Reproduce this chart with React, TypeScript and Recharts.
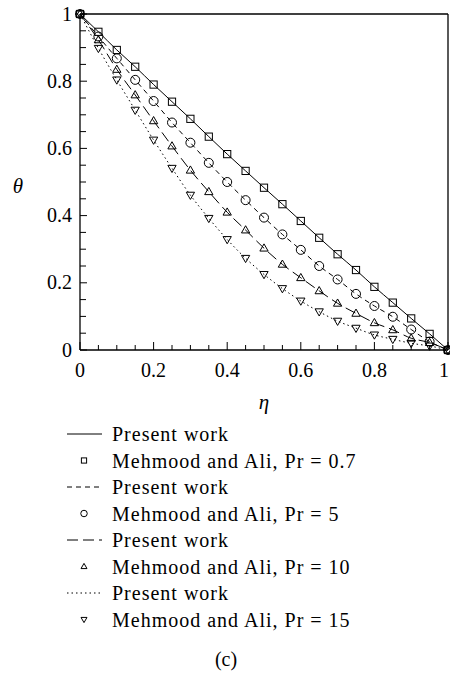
import { ComposedChart, Line, Scatter, XAxis, YAxis, ReferenceLine, Legend } from 'recharts'

// dimensionless distance and temperature profiles
const etaValues = [0, 0.05, 0.1, 0.15, 0.2, 0.25, 0.3, 0.35, 0.4, 0.45, 0.5, 0.55, 0.6, 0.65, 0.7, 0.75, 0.8, 0.85, 0.9, 0.95, 1]
const thetaPr07 = [1, 0.947, 0.893, 0.843, 0.79, 0.739, 0.688, 0.635, 0.583, 0.533, 0.483, 0.434, 0.384, 0.334, 0.285, 0.238, 0.188, 0.141, 0.094, 0.048, 0]
const thetaPr5 = [1, 0.933, 0.868, 0.804, 0.741, 0.677, 0.617, 0.557, 0.5, 0.446, 0.394, 0.344, 0.298, 0.25, 0.21, 0.167, 0.131, 0.099, 0.061, 0.025, 0]
const thetaPr10 = [1, 0.923, 0.835, 0.759, 0.682, 0.607, 0.535, 0.471, 0.41, 0.357, 0.303, 0.255, 0.215, 0.176, 0.139, 0.109, 0.081, 0.06, 0.035, 0.022, 0]
const thetaPr15 = [1, 0.898, 0.804, 0.714, 0.625, 0.541, 0.461, 0.392, 0.329, 0.273, 0.225, 0.183, 0.146, 0.114, 0.086, 0.065, 0.045, 0.032, 0.02, 0.012, 0]

const tickValues = [0, 0.05, 0.1, 0.15, 0.2, 0.25, 0.3, 0.35, 0.4, 0.45, 0.5, 0.55, 0.6, 0.65, 0.7, 0.75, 0.8, 0.85, 0.9, 0.95, 1]
const majorTicks = [0, 0.2, 0.4, 0.6, 0.8, 1]
const majorLabels = ['0', '0.2', '0.4', '0.6', '0.8', '1']

const lineLabel = 'Present work'
const markerLabels = ['Mehmood and Ali, Pr = 0.7', 'Mehmood and Ali, Pr = 5', 'Mehmood and Ali, Pr = 10', 'Mehmood and Ali, Pr = 15']

const rows = etaValues.map((eta, i) => ({
  eta,
  pr07: thetaPr07[i],
  pr5: thetaPr5[i],
  pr10: thetaPr10[i],
  pr15: thetaPr15[i],
}))

type Kind = 'square' | 'circle' | 'up' | 'down'

const series: { key: string; dash?: string; marker: Kind }[] = [
  { key: 'pr07', marker: 'square' },
  { key: 'pr5', dash: '5 4', marker: 'circle' },
  { key: 'pr10', dash: '11 5', marker: 'up' },
  { key: 'pr15', dash: '1.5 3', marker: 'down' },
]

const FONT = '"Liberation Serif", "DejaVu Serif", serif'
const txt = { fontFamily: FONT, fill: '#000' }

function Marker({ kind, cx, cy, s }: { kind: Kind; cx: number; cy: number; s: number }) {
  const common = { fill: 'none', stroke: '#000', strokeWidth: 1 }
  if (kind === 'square') return <rect x={cx - s} y={cy - s} width={2 * s} height={2 * s} {...common} />
  if (kind === 'circle') return <circle cx={cx} cy={cy} r={s * 1.25} {...common} />
  if (kind === 'up')
    return <path d={`M${cx},${cy - s * 1.2}L${cx + s * 1.15},${cy + s * 0.8}L${cx - s * 1.15},${cy + s * 0.8}Z`} {...common} />
  return <path d={`M${cx},${cy + s * 1.2}L${cx + s * 1.15},${cy - s * 0.8}L${cx - s * 1.15},${cy - s * 0.8}Z`} {...common} />
}

function XTick({ x, y, payload }: any) {
  const idx = majorTicks.indexOf(payload.value)
  const major = idx >= 0
  return (
    <g>
      <line x1={x} x2={x} y1={y} y2={y - (major ? 8 : 5)} stroke="#000" />
      {major && (
        // keep the last label inside the page edge
        <text x={Math.min(x, 444)} y={y + 27} textAnchor="middle" fontSize={20} style={txt}>
          {majorLabels[idx]}
        </text>
      )}
    </g>
  )
}

function YTick({ x, y, payload }: any) {
  const idx = majorTicks.indexOf(payload.value)
  const major = idx >= 0
  return (
    <g>
      <line x1={x} x2={x + (major ? 7 : 6)} y1={y} y2={y} stroke="#000" />
      {major && (
        <text x={x - 8} y={y + 6.5} textAnchor="end" fontSize={20} style={txt}>
          {majorLabels[idx]}
        </text>
      )}
    </g>
  )
}

function LegendBlock() {
  const pitch = 26.5
  return (
    <svg width={450} height={220} style={{ display: 'block' }}>
      {series.map((s, i) => {
        const yLine = 14 + i * pitch * 2
        const yMark = yLine + pitch
        return (
          <g key={s.key}>
            <line x1={67} x2={102} y1={yLine} y2={yLine} stroke="#000" strokeDasharray={s.dash} />
            <text x={112} y={yLine + 7} fontSize={20} style={{ ...txt, letterSpacing: 1 }}>
              {lineLabel}
            </text>
            <Marker kind={s.marker} cx={84} cy={yMark} s={2.6} />
            <text x={112} y={yMark + 7} fontSize={20} style={{ ...txt, letterSpacing: 1 }}>
              {markerLabels[i]}
            </text>
          </g>
        )
      })}
    </svg>
  )
}

export default function App() {
  return (
    <div style={{ position: 'absolute', left: 0, top: 0, width: 450, height: 677, background: '#fff', fontFamily: FONT }}>
      <ComposedChart width={450} height={677} data={rows} margin={{ top: 14, right: 2, left: 0, bottom: 267 }}>
        <XAxis
          dataKey="eta"
          type="number"
          domain={[0, 1]}
          ticks={tickValues}
          interval={0}
          height={60}
          tickLine={false}
          tickSize={0}
          tickMargin={0}
          tick={<XTick />}
          axisLine={{ stroke: '#000', strokeWidth: 1.3 }}
          label={{
            content: () => (
              <text x={264} y={409} textAnchor="middle" fontSize={21} fontStyle="italic" style={txt}>
                η
              </text>
            ),
          }}
        />
        <YAxis
          type="number"
          domain={[0, 1]}
          ticks={tickValues}
          interval={0}
          width={80}
          tickLine={false}
          tickSize={0}
          tickMargin={0}
          tick={<YTick />}
          axisLine={{ stroke: '#000', strokeWidth: 1.3 }}
          label={{
            content: () => (
              <text x={18} y={193} textAnchor="middle" fontSize={21} fontStyle="italic" style={txt}>
                θ
              </text>
            ),
          }}
        />
        <ReferenceLine y={1} stroke="#000" strokeWidth={1.3} />
        <ReferenceLine x={1} stroke="#000" strokeWidth={1.3} />
        {series.map((s) => (
          <Line
            key={`l-${s.key}`}
            type="monotone"
            dataKey={s.key}
            stroke="#000"
            strokeWidth={1}
            strokeDasharray={s.dash}
            dot={false}
            activeDot={false}
            isAnimationActive={false}
          />
        ))}
        {series.map((s) => (
          <Scatter
            key={`m-${s.key}`}
            dataKey={s.key}
            isAnimationActive={false}
            shape={(p: any) => <Marker kind={s.marker} cx={p.cx} cy={p.cy} s={3.6} />}
          />
        ))}
        <Legend
          layout="vertical"
          verticalAlign="middle"
          align="center"
          content={() => <LegendBlock />}
          wrapperStyle={{ left: 0, top: 420, width: 450, height: 220 }}
        />
      </ComposedChart>
      <div
        style={{
          position: 'absolute',
          left: 0,
          top: 647,
          width: 452,
          textAlign: 'center',
          fontFamily: FONT,
          fontSize: 20,
          lineHeight: '24px',
        }}
      >
        (c)
      </div>
    </div>
  )
}
